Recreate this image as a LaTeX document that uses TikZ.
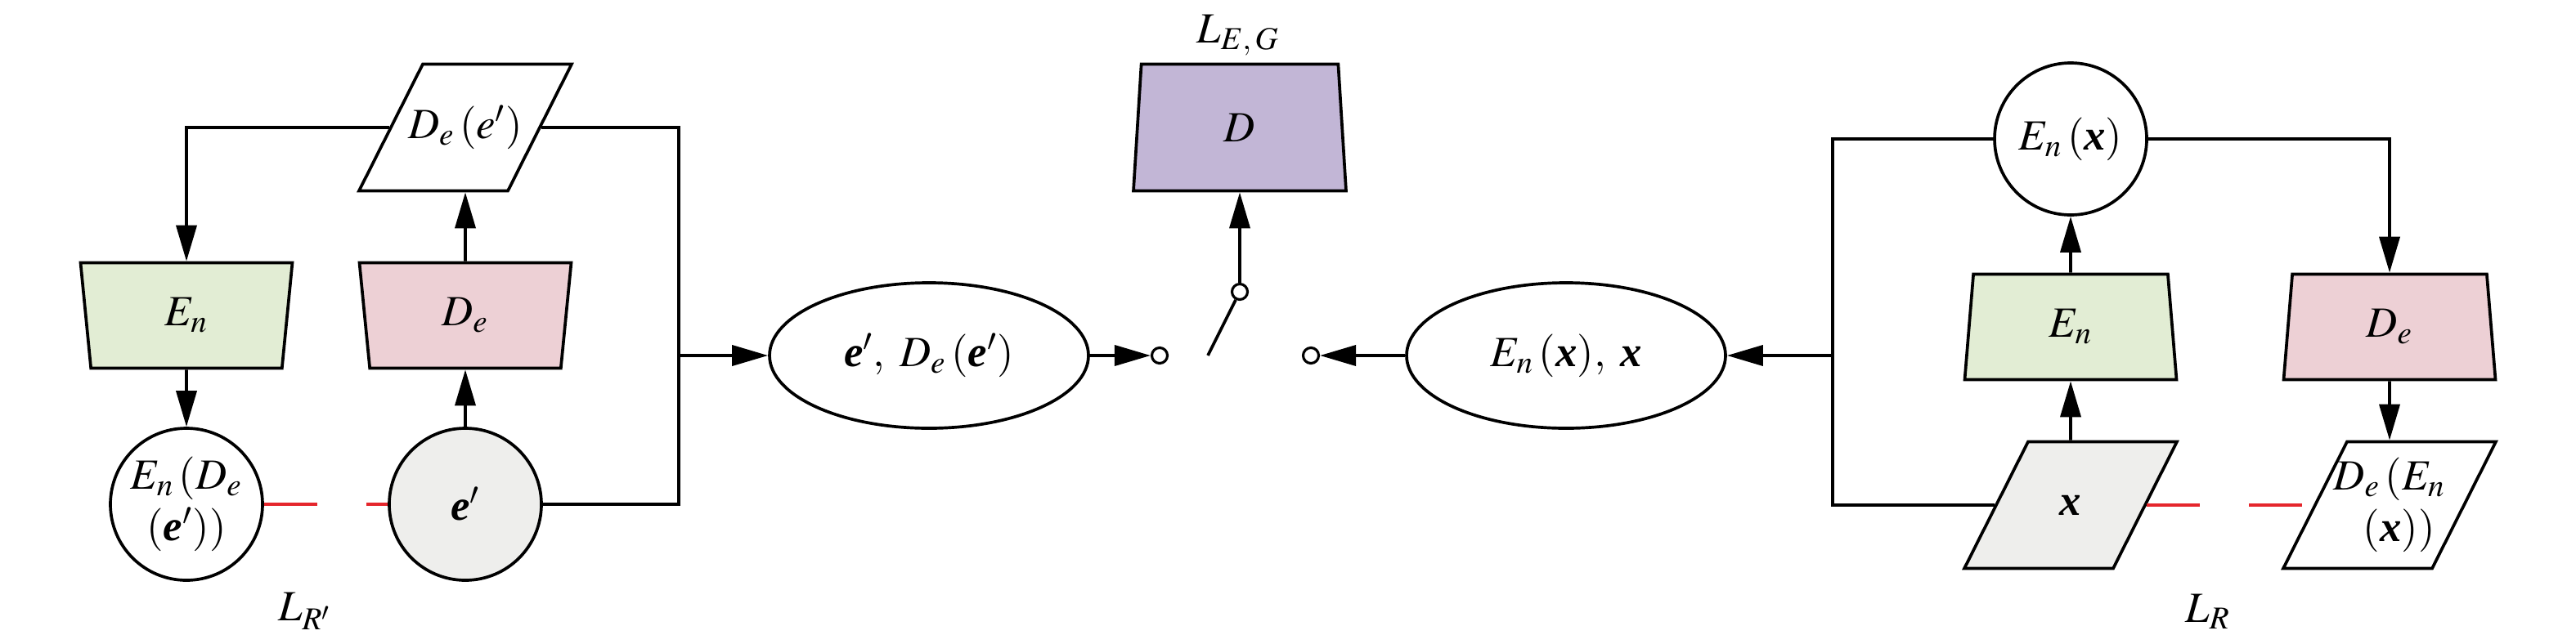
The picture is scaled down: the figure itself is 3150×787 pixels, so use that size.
\documentclass[tikz,border=0pt]{standalone}
\usepackage{mathptmx}
\usepackage[no-math]{fontspec}
\setmainfont{Liberation Serif}
\usetikzlibrary{shapes.geometric,arrows.meta}
\definecolor{engreen}{HTML}{E2EDD4}
\definecolor{depink}{HTML}{EDD0D5}
\definecolor{dpurple}{HTML}{C2B6D6}
\definecolor{ingray}{HTML}{EEEEEC}
\definecolor{lossred}{HTML}{E5262C}
\newcommand{\bv}[1]{\mbox{\bfseries\itshape #1}}
\tikzset{l/.style={font=\fontsize{15}{18}\selectfont}}
\tikzset{trapw/.style={trapezium,draw,trapezium stretches body,trapezium left angle=106.6,trapezium right angle=106.6,minimum width=25.9mm,minimum height=12.9mm,inner sep=0pt}}
\tikzset{trapn/.style={trapezium,draw,trapezium stretches body,trapezium left angle=76,trapezium right angle=76,minimum width=25.9mm,minimum height=12.9mm,inner sep=0pt}}
\tikzset{para/.style={trapezium,draw,trapezium stretches body,trapezium left angle=63.3,trapezium right angle=116.7,minimum width=26mm,text height=15.5mm,text depth=0pt,inner sep=0pt,label={[align=center]center:#1}}}
\tikzset{blob/.style={circle,draw,minimum size=18.6mm,inner sep=0pt,align=center}}
\tikzset{pool/.style={ellipse,draw,minimum width=39mm,minimum height=17.8mm,inner sep=0pt}}
\tikzset{port/.style={circle,draw,fill=white,minimum size=1.9mm,inner sep=0pt,line width=0.9pt}}
\tikzset{rec/.style={lossred,dash pattern=on 6.5mm off 6mm}}

\begin{document}
\begin{tikzpicture}[x=0.1mm,y=-0.1mm,line width=1.05pt,>={Triangle[length=4.4mm,width=2.5mm]},l]
  \useasboundingbox (0,0) rectangle (3150,787);
  % left loop: e' -> D_e -> E_n
  \node[para={$D_e\,(e')$}] (pde) at (569,156) {};
  \node[trapw,fill=engreen] (enl) at (228,386) {$E_n$};
  \node[trapw,fill=depink] (del) at (569,386) {$D_e$};
  \node[blob] (cre) at (228,617) {$E_n\,(D_e$\\$(\bv{e}'))$};
  \node[blob,fill=ingray] (ce) at (569,617) {$\bv{e}'$};
  \coordinate (jl) at (830,435);
  \node at (373,748) {$L_{R'}$};
  \draw[->] (pde.west) -| (enl.north);
  \draw (pde.east) -| (jl) |- (ce.east);
  \draw[->] (enl.south) -- (cre.north);
  \draw[->] (ce.north) -- (del.south);
  \draw[->] (del.north) -- (pde.south);
  \draw[rec] (cre.east) -- (ce.west);
  % discriminator with switch
  \node[pool] (ell1) at (1136,435) {$\bv{e}',\;D_e\,(\bv{e}')$};
  \node[pool] (ell2) at (1915,435) {$E_n\,(\bv{x}),\;\bv{x}$};
  \node[port] (sl) at (1418,435) {};
  \node[port] (sr) at (1603,435) {};
  \node[port] (ssw) at (1516,357) {};
  \coordinate (swb) at (1477,435);
  \node[trapn,trapezium left angle=74.3,trapezium right angle=74.3,minimum width=26mm,minimum height=15.5mm,fill=dpurple] (dg) at (1516,156) {$D$};
  \node at (1514,43) {$L_{E,\,G}$};
  \draw[->] (jl) -- (ell1.west);
  \draw[->] (ell1.east) -- (sl.west);
  \draw (swb) -- (ssw);
  \draw[->] (ssw.north) -- (dg.south);
  \draw[->] (ell2.west) -- (sr.east);
  % right loop: x -> E_n -> D_e
  \node[blob] (cx) at (2532,170) {$E_n\,(\bv{x})$};
  \node[trapn,fill=engreen] (enr) at (2532,400) {$E_n$};
  \node[trapn,fill=depink] (der) at (2922,400) {$D_e$};
  \node[para={$\bv{x}$},fill=ingray] (px) at (2532,618) {};
  \node[para={$D_e\,(E_n$\\$\;\;(\bv{x}))$}] (pdx) at (2922,618) {};
  \coordinate (jr) at (2241,435);
  \node at (2700,748) {$L_R$};
  \draw[->] (jr) -- (ell2.east);
  \draw (cx.west) -| (jr) |- (px.west);
  \draw[->] (cx.east) -| (der.north);
  \draw[->] (px.north) -- (enr.south);
  \draw[->] (enr.north) -- (cx.south);
  \draw[->] (der.south) -- (pdx.north);
  \draw[rec] (px.east) -- (pdx.west);
\end{tikzpicture}
\end{document}
